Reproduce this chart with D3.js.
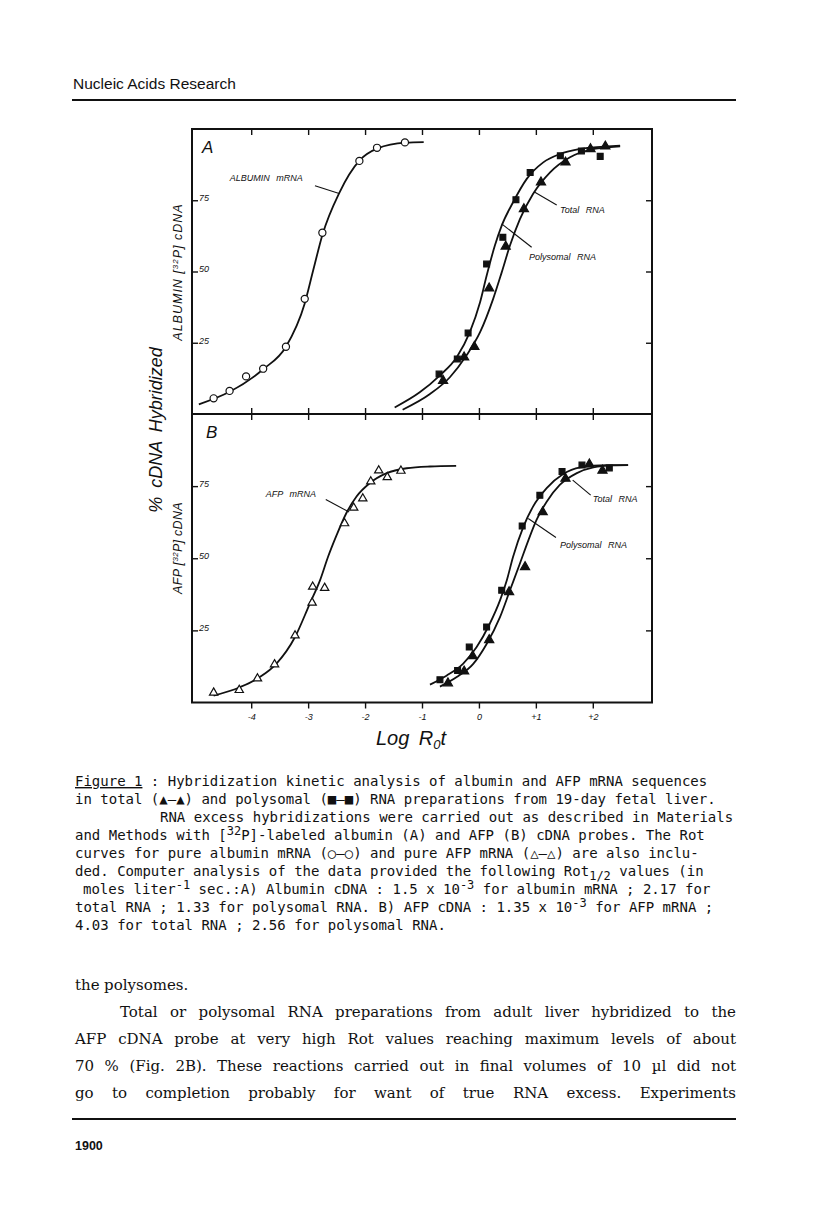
<!DOCTYPE html>
<html>
<head>
<meta charset="utf-8">
<title>Figure 1</title>
<script src="https://cdn.jsdelivr.net/npm/d3@7"></script>
<style>
  body { margin: 0; background: #fff; }
  svg { display: block; }
  .plot text { font-family: "Liberation Sans", Arial, sans-serif; font-style: italic; fill: #111; }
  .axis line { stroke: #111; stroke-width: 1.4; }
  .axis text { font-size: 9px; }
  .note { font-size: 9px; word-spacing: 4px; }
  .caption text { font-family: "DejaVu Sans Mono", monospace; font-size: 14px; fill: #111; white-space: pre; }
  .body-text text { font-family: "DejaVu Serif", serif; font-size: 15px; fill: #111; }
</style>
</head>
<body>
<div class="canvas"></div>
<script>
// x = log Rot, y = % cDNA hybridized
const xTicks = [-4, -3, -2, -1, 0, 1, 2];
const xTickLabels = ["-4", "-3", "-2", "-1", "0", "+1", "+2"];
const yTicks = [25, 50, 75];

// panel A : albumin cDNA
const albuminMrnaPoints = [[-4.66, 5.5], [-4.38, 8.1], [-4.09, 13.2], [-3.79, 15.9], [-3.39, 23.6], [-3.06, 40.4], [-2.75, 63.6], [-2.10, 88.8], [-1.79, 93.4], [-1.30, 95.3]];
const albuminMrnaCurve = [[-4.92, 3.4], [-4.38, 7.8], [-3.79, 15.7], [-3.39, 23.6], [-3.06, 38.8], [-2.91, 50.5], [-2.75, 62.8], [-2.45, 77.7], [-2.10, 88.9], [-1.78, 93.2], [-1.29, 95.2], [-0.97, 95.4]];
const albuminPolyPoints = [[-0.70, 14.0], [-0.38, 19.3], [-0.19, 28.4], [0.135, 52.6], [0.42, 62.0], [0.65, 75.2], [0.90, 84.7], [1.43, 90.6], [1.80, 92.3], [2.13, 90.4]];
const albuminPolyCurve = [[-1.48, 2.3], [-1.04, 7.6], [-0.69, 13.5], [-0.39, 19.9], [-0.16, 28.7], [0.02, 39.2], [0.135, 48.5], [0.28, 59.1], [0.40, 66.1], [0.60, 74.3], [0.84, 82.5], [1.13, 88.3], [1.42, 91.2], [1.78, 93.0], [2.48, 94.2]];
const albuminTotalPoints = [[-0.63, 11.7], [-0.26, 19.9], [-0.08, 23.6], [0.18, 44.1], [0.47, 58.8], [0.79, 71.9], [1.09, 81.3], [1.52, 88.3], [1.96, 93.0], [2.22, 93.9]];
const albuminTotalCurve = [[-1.34, 1.5], [-0.86, 7.0], [-0.51, 12.9], [-0.22, 20.5], [0.02, 28.7], [0.25, 40.4], [0.40, 49.7], [0.545, 59.1], [0.72, 68.4], [0.95, 77.2], [1.25, 84.8], [1.60, 90.1], [1.95, 92.7], [2.48, 93.9]];

// panel B : AFP cDNA
const afpMrnaPoints = [[-4.66, 3.4], [-4.21, 4.3], [-3.89, 8.3], [-3.59, 13.2], [-3.23, 23.2], [-2.93, 34.6], [-2.92, 40.1], [-2.71, 39.7], [-2.36, 62.1], [-2.20, 67.5], [-2.04, 70.7], [-1.90, 76.6], [-1.76, 80.4], [-1.61, 78.1], [-1.37, 80.3]];
const afpMrnaCurve = [[-4.66, 2.4], [-4.20, 5.3], [-3.85, 8.8], [-3.56, 13.4], [-3.23, 22.7], [-2.97, 34.3], [-2.79, 42.4], [-2.65, 50.5], [-2.50, 58.0], [-2.33, 65.6], [-2.15, 71.4], [-1.92, 76.0], [-1.62, 79.5], [-1.27, 81.2], [-0.86, 81.8], [-0.40, 82.0]];
const afpPolyPoints = [[-0.685, 7.9], [-0.375, 11.1], [-0.17, 19.2], [0.135, 26.2], [0.40, 38.9], [0.76, 61.2], [1.07, 71.8], [1.46, 80.1], [1.81, 82.3], [2.29, 81.3]];
const afpPolyCurve = [[-0.86, 6.2], [-0.57, 9.3], [-0.28, 13.4], [-0.04, 19.2], [0.19, 27.3], [0.37, 35.4], [0.49, 42.4], [0.60, 50.5], [0.78, 60.9], [0.95, 67.9], [1.19, 74.3], [1.48, 79.2], [1.78, 81.5], [2.24, 82.3], [2.62, 82.3]];
const afpTotalPoints = [[-0.545, 6.7], [-0.26, 10.8], [-0.11, 16.1], [0.18, 21.7], [0.53, 38.3], [0.81, 47.0], [1.12, 66.0], [1.52, 77.6], [1.94, 82.6], [2.17, 80.4]];
const afpTotalCurve = [[-0.685, 5.5], [-0.39, 8.8], [-0.10, 13.4], [0.135, 20.3], [0.37, 29.6], [0.545, 38.9], [0.72, 48.2], [0.87, 56.3], [1.01, 63.2], [1.19, 69.6], [1.42, 75.4], [1.72, 79.5], [2.01, 81.5], [2.36, 82.2], [2.62, 82.3]];

// curve labels: text position and leader line, in data units
const notesA = [
  { text: "ALBUMIN mRNA", at: [-4.376, 81.75], line: [[-2.88, 80.1], [-2.455, 77.4]] },
  { text: "Total RNA", at: [1.424, 70.7], line: [[0.967, 78.0], [1.366, 73.3]] },
  { text: "Polysomal RNA", at: [0.879, 54.2], line: [[0.40, 66.7], [0.926, 58.5]] },
];
const notesB = [
  { text: "AFP mRNA", at: [-3.743, 71.3], line: [[-2.69, 70.4], [-2.28, 66.0]] },
  { text: "Total RNA", at: [2.0, 69.6], line: [[1.647, 77.1], [1.963, 71.9]] },
  { text: "Polysomal RNA", at: [1.424, 53.4], line: [[0.866, 63.8], [1.353, 57.2]] },
];

const captionLines = [
  { x: 75, parts: [["Figure 1", "u"], [" : Hybridization kinetic analysis of albumin and AFP mRNA sequences"]] },
  { x: 75, parts: [["in total (▲—▲) and polysomal (■—■) RNA preparations from 19-day fetal liver."]] },
  { x: 160, parts: [["RNA excess hybridizations were carried out as described in Materials"]] },
  { x: 75, parts: [["and Methods with ["], ["32", "sup"], ["P]-labeled albumin (A) and AFP (B) cDNA probes. The Rot"]] },
  { x: 75, parts: [["curves for pure albumin mRNA (○—○) and pure AFP mRNA (△—△) are also inclu-"]] },
  { x: 75, parts: [["ded. Computer analysis of the data provided the following Rot"], ["1/2", "sub"], [" values (in"]] },
  { x: 83, parts: [["moles liter"], ["-1", "sup"], [" sec.:A) Albumin cDNA : 1.5 x 10"], ["-3", "sup"], [" for albumin mRNA ; 2.17 for"]] },
  { x: 75, parts: [["total RNA ; 1.33 for polysomal RNA. B) AFP cDNA : 1.35 x 10"], ["-3", "sup"], [" for AFP mRNA ;"]] },
  { x: 75, parts: [["4.03 for total RNA ; 2.56 for polysomal RNA."]] },
];

const bodyLines = [
  { text: "the polysomes.", x0: 75, justify: false },
  { text: "Total or polysomal RNA preparations from adult liver hybridized to the", x0: 120, justify: true },
  { text: "AFP cDNA probe at very high Rot values reaching maximum levels of about", x0: 75, justify: true },
  { text: "70 % (Fig. 2B). These reactions carried out in final volumes of 10 µl did not", x0: 75, justify: true },
  { text: "go to completion probably for want of true RNA excess. Experiments", x0: 75, justify: true },
];

const W = 816;
const H = 1213;
const frame = { left: 192, right: 652, top: 129, mid: 414, bottom: 702.5 };

const x = d3.scaleLinear().domain([-5.04, 3.04]).range([frame.left, frame.right]);
const yA = d3.scaleLinear().domain([0, 100]).range([frame.mid, frame.top]);
const yB = d3.scaleLinear().domain([0, 100]).range([frame.bottom, frame.mid]);

const marks = {
  openCircle: { type: d3.symbolCircle, size: 40, fill: "#fff" },
  openTriangle: { type: d3.symbolTriangle, size: 30, fill: "#fff" },
  square: { type: d3.symbolSquare, size: 34, fill: "#111" },
  triangle: { type: d3.symbolTriangle, size: 36, fill: "#111" },
};

const panels = [
  {
    name: "A", y: yA, top: frame.top, bottom: frame.mid, notes: notesA,
    series: [
      { curve: albuminMrnaCurve, points: albuminMrnaPoints, mark: "openCircle" },
      { curve: albuminPolyCurve, points: albuminPolyPoints, mark: "square" },
      { curve: albuminTotalCurve, points: albuminTotalPoints, mark: "triangle" },
    ],
  },
  {
    name: "B", y: yB, top: frame.mid, bottom: frame.bottom, notes: notesB,
    series: [
      { curve: afpMrnaCurve, points: afpMrnaPoints, mark: "openTriangle" },
      { curve: afpPolyCurve, points: afpPolyPoints, mark: "square" },
      { curve: afpTotalCurve, points: afpTotalPoints, mark: "triangle" },
    ],
  },
];

const svg = d3.select(".canvas").append("svg").attr("width", W).attr("height", H);
svg.append("rect").attr("width", W).attr("height", H).attr("fill", "#fff");

// page header
svg.append("text")
  .attr("x", 73).attr("y", 89)
  .style("font-family", '"Liberation Sans", Arial, sans-serif')
  .style("font-size", "15.5px")
  .style("fill", "#111")
  .text("Nucleic Acids Research");
svg.append("line").attr("x1", 72).attr("x2", 736).attr("y1", 100).attr("y2", 100)
  .attr("stroke", "#111").attr("stroke-width", 2);

const plot = svg.append("g").attr("class", "plot");

function drawPanel(p, isLast) {
  const g = plot.append("g");
  const blank = () => "";

  g.append("g").attr("class", "axis")
    .attr("transform", `translate(0, ${p.top})`)
    .call(d3.axisBottom(x).tickValues(xTicks).tickSize(6).tickFormat(blank))
    .call((a) => a.select(".domain").remove());

  if (isLast) {
    g.append("g").attr("class", "axis")
      .attr("transform", `translate(0, ${p.bottom})`)
      .call(d3.axisBottom(x).tickValues(xTicks).tickSize(6).tickPadding(5)
        .tickFormat((d, i) => xTickLabels[i]))
      .call((a) => a.select(".domain").remove());
  } else {
    g.append("g").attr("class", "axis")
      .attr("transform", `translate(0, ${p.bottom})`)
      .call(d3.axisTop(x).tickValues(xTicks).tickSize(6).tickFormat(blank))
      .call((a) => a.select(".domain").remove());
  }

  g.append("g").attr("class", "axis")
    .attr("transform", `translate(${frame.left}, 0)`)
    .call(d3.axisRight(p.y).tickValues(yTicks).tickSize(6).tickPadding(1))
    .call((a) => a.select(".domain").remove())
    .call((a) => a.selectAll("text").attr("dy", "0.05em"));

  g.append("g").attr("class", "axis")
    .attr("transform", `translate(${frame.right}, 0)`)
    .call(d3.axisLeft(p.y).tickValues(yTicks).tickSize(6).tickFormat(blank))
    .call((a) => a.select(".domain").remove());

  const line = d3.line()
    .x((d) => x(d[0]))
    .y((d) => p.y(d[1]))
    .curve(d3.curveMonotoneX);

  p.series.forEach((s) => {
    g.append("path")
      .attr("d", line(s.curve))
      .attr("fill", "none")
      .attr("stroke", "#111")
      .attr("stroke-width", 1.8);
  });

  p.series.forEach((s) => {
    const m = marks[s.mark];
    g.selectAll(null)
      .data(s.points)
      .enter()
      .append("path")
      .attr("d", d3.symbol().type(m.type).size(m.size))
      .attr("transform", (d) => `translate(${x(d[0])}, ${p.y(d[1])})`)
      .attr("fill", m.fill)
      .attr("stroke", "#111")
      .attr("stroke-width", 1.2);
  });

  p.notes.forEach((n) => {
    g.append("line")
      .attr("x1", x(n.line[0][0])).attr("y1", p.y(n.line[0][1]))
      .attr("x2", x(n.line[1][0])).attr("y2", p.y(n.line[1][1]))
      .attr("stroke", "#111").attr("stroke-width", 1.1);
    g.append("text")
      .attr("class", "note")
      .attr("x", x(n.at[0]))
      .attr("y", p.y(n.at[1]))
      .text(n.text);
  });

  g.append("text")
    .attr("x", frame.left + (p.name === "A" ? 10 : 14))
    .attr("y", p.top + 24)
    .style("font-size", "17px")
    .text(p.name);
}

panels.forEach((p, i) => drawPanel(p, i === panels.length - 1));

plot.append("rect")
  .attr("x", frame.left).attr("y", frame.top)
  .attr("width", frame.right - frame.left).attr("height", frame.bottom - frame.top)
  .attr("fill", "none").attr("stroke", "#111").attr("stroke-width", 2);
plot.append("line")
  .attr("x1", frame.left).attr("x2", frame.right)
  .attr("y1", frame.mid).attr("y2", frame.mid)
  .attr("stroke", "#111").attr("stroke-width", 2);

// y titles
plot.append("text")
  .attr("transform", "translate(162, 430) rotate(-90)")
  .attr("text-anchor", "middle")
  .style("font-size", "18px")
  .style("word-spacing", "4px")
  .text("% cDNA Hybridized");

function sideTitle(ty, name, spacing) {
  const t = plot.append("text")
    .attr("transform", `translate(182, ${ty}) rotate(-90)`)
    .attr("text-anchor", "middle")
    .style("font-size", "12.5px")
    .style("letter-spacing", spacing + "px");
  t.append("tspan").text(name + " [");
  t.append("tspan").attr("dy", -4).style("font-size", "8px").text("32");
  t.append("tspan").attr("dy", 4).text("P] cDNA");
}
sideTitle(272, "ALBUMIN", 1);
sideTitle(548, "AFP", 0.3);

// x title
const xt = plot.append("text")
  .attr("x", 411).attr("y", 745)
  .attr("text-anchor", "middle")
  .style("font-size", "20px")
  .style("word-spacing", "4px");
xt.append("tspan").text("Log R");
xt.append("tspan").attr("dy", 4).style("font-size", "13px").text("0");
xt.append("tspan").attr("dy", -4).text("t");

// caption
const caption = svg.append("g").attr("class", "caption");
captionLines.forEach((ln, i) => {
  const text = caption.append("text").attr("x", ln.x).attr("y", 786 + i * 18);
  let shift = 0;
  ln.parts.forEach(([t, kind]) => {
    const target = kind === "sup" ? -5 : kind === "sub" ? 4 : 0;
    const span = text.append("tspan").attr("dy", target - shift).text(t);
    if (kind === "sup" || kind === "sub") span.style("font-size", "12px");
    if (kind === "u") span.style("text-decoration", "underline");
    shift = target;
  });
});

// running text, justified word by word
const body = svg.append("g").attr("class", "body-text");
bodyLines.forEach((ln, i) => {
  const y = 990 + i * 27;
  const words = ln.text.split(" ");
  const nodes = words.map((w) => body.append("text").attr("y", y).text(w));
  const widths = nodes.map((n) => n.node().getComputedTextLength());
  const gap = ln.justify ? (736 - ln.x0 - d3.sum(widths)) / (words.length - 1) : 4.5;
  let cx = ln.x0;
  nodes.forEach((n, j) => {
    n.attr("x", cx);
    cx += widths[j] + gap;
  });
});

// page foot
svg.append("line").attr("x1", 72).attr("x2", 736).attr("y1", 1119).attr("y2", 1119)
  .attr("stroke", "#111").attr("stroke-width", 2);
svg.append("text")
  .attr("x", 75).attr("y", 1150)
  .style("font-family", '"Liberation Sans", Arial, sans-serif')
  .style("font-size", "12.5px")
  .style("font-weight", "bold")
  .style("fill", "#111")
  .text("1900");
</script>
</body>
</html>
